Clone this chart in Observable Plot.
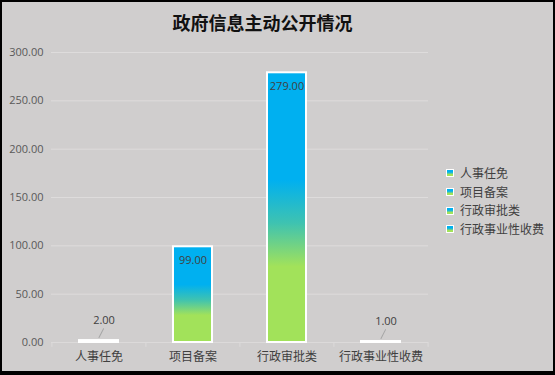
<!DOCTYPE html>
<html>
<head>
<meta charset="utf-8">
<script src="https://cdn.jsdelivr.net/npm/d3@7"></script>
<script src="https://cdn.jsdelivr.net/npm/@observablehq/plot@0.6"></script>
<style>
  html, body { margin: 0; padding: 0; background: #D0CECE; }
  #wrap { position: relative; width: 555px; height: 375px; overflow: hidden; background: #D0CECE; }
  #frame { position: absolute; left: 0; top: 0; width: 555px; height: 375px; box-sizing: border-box; border: 2px solid #000; border-bottom-width: 4px; pointer-events: none; }
  #title { position: absolute; left: 0; width: 525px; top: 9px; text-align: center; font-family: "Noto Sans CJK SC", sans-serif; font-weight: bold; font-size: 18px; line-height: 26px; color: #111; }
  #legend { position: absolute; left: 446px; top: 164px; font-family: "Noto Sans CJK SC", sans-serif; font-size: 12px; color: #404040; }
  .li { height: 18.7px; line-height: 18.7px; display: flex; align-items: center; white-space: nowrap; }
  .sw { width: 6px; height: 6px; margin-right: 6px; border: 0.5px solid #fff; background: linear-gradient(to bottom, #00B0F0 0%, #00B0F0 35%, #A2E25A 75%, #A2E25A 100%); }
  svg { position: absolute; left: 0; top: 0; }
</style>
</head>
<body>
<div id="wrap">
  <div id="title"></div>
  <div id="legend"></div>
  <div id="frame"></div>
</div>
<script>
const titleText = "政府信息主动公开情况";
const categories = ["人事任免", "项目备案", "行政审批类", "行政事业性收费"];
const values = [2, 99, 279, 1];
const yTicks = [0, 50, 100, 150, 200, 250, 300];

const data = categories.map((c, i) => ({category: c, value: values[i]}));
const fmt = d3.format(".2f");
const font = "'Open Sans', 'Noto Sans CJK SC', sans-serif";

document.getElementById("title").textContent = titleText;
const legend = document.getElementById("legend");
categories.forEach(c => {
  const row = document.createElement("div");
  row.className = "li";
  const sw = document.createElement("span");
  sw.className = "sw";
  const t = document.createElement("span");
  t.textContent = c;
  row.appendChild(sw); row.appendChild(t);
  legend.appendChild(row);
});

const lastCat = categories[categories.length - 1];

const plot = Plot.plot({
  width: 555,
  height: 375,
  marginLeft: 51,
  marginRight: 127,
  marginTop: 52,
  marginBottom: 33,
  style: {background: "transparent", fontFamily: font, overflow: "visible"},
  x: {domain: categories, paddingInner: 0.58, paddingOuter: 0.29, axis: null, label: null},
  y: {domain: [0, 300], axis: null, label: null},
  marks: [
    Plot.ruleY(yTicks.filter(t => t > 0), {stroke: "#DEDCDC", strokeWidth: 1}),
    Plot.ruleY([0], {stroke: "#DCDADA", strokeWidth: 1}),
    Plot.ruleX(categories, {x: d => d, dx: -47.1, y1: 0, y2: -5, stroke: "#DCDADA"}),
    Plot.ruleX([lastCat], {x: d => d, dx: 47.1, y1: 0, y2: -5, stroke: "#DCDADA"}),
    Plot.barY(data, {x: "category", y: "value", fill: "url(#barGrad)", stroke: "#fff", strokeWidth: 2}),
    Plot.axisY(yTicks, {label: null, tickSize: 0, tickPadding: 8, tickFormat: fmt, fontSize: 11, fill: "#595959", fontFamily: font}),
    Plot.axisX({label: null, tickSize: 0, tickPadding: 10, fontSize: 12, fill: "#404040", fontFamily: "'Noto Sans CJK SC', sans-serif"}),
    Plot.text(data.filter(d => d.value >= 50), {x: "category", y: "value", text: d => fmt(d.value), dy: 14, fill: "#404040", fontSize: 11}),
    Plot.text(data.filter(d => d.value < 50), {x: "category", y: "value", text: d => fmt(d.value), dy: -20, dx: 5, fill: "#404040", fontSize: 11}),
    Plot.vector(data.filter(d => d.value < 50), {
      x: "category", y: "value", dx: 0, dy: -3, length: 10, rotate: 27, anchor: "start",
      stroke: "#A6A6A6", strokeWidth: 1,
      shape: {draw(ctx, l) { ctx.moveTo(0, 0); ctx.lineTo(0, -l); }}
    })
  ]
});

const svg = d3.select(plot);
const defs = svg.insert("defs", ":first-child");
const g = defs.append("linearGradient").attr("id", "barGrad")
  .attr("x1", 0).attr("y1", 0).attr("x2", 0).attr("y2", 1);
[[0, "#00B0F0"], [0.40, "#00B0F0"], [0.56, "#3FC3B0"], [0.72, "#A2E25A"], [1, "#A2E25A"]]
  .forEach(([o, c]) => g.append("stop").attr("offset", o).attr("stop-color", c));

document.getElementById("wrap").insertBefore(plot, document.getElementById("frame"));
</script>
</body>
</html>
